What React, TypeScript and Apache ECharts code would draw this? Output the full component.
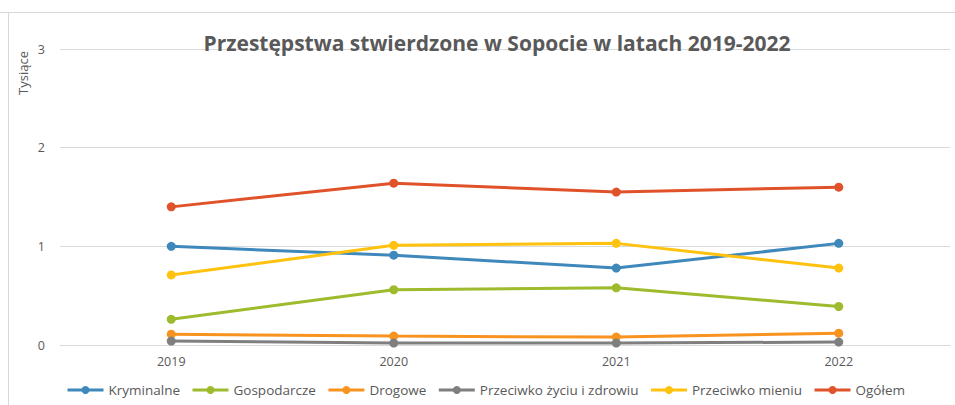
import React, { useEffect, useRef } from "react";
import * as echarts from "echarts";

const years = ["2019", "2020", "2021", "2022"];
const kryminalne = [1.0, 0.91, 0.78, 1.03];
const gospodarcze = [0.26, 0.56, 0.58, 0.39];
const drogowe = [0.11, 0.09, 0.08, 0.12];
const przeciwkoZyciu = [0.04, 0.02, 0.02, 0.03];
const przeciwkoMieniu = [0.71, 1.01, 1.03, 0.78];
const ogolem = [1.4, 1.64, 1.55, 1.6];

const seriesNames = [
  "Kryminalne",
  "Gospodarcze",
  "Drogowe",
  "Przeciwko życiu i zdrowiu",
  "Przeciwko mieniu",
  "Ogółem",
];
const seriesData = [kryminalne, gospodarcze, drogowe, przeciwkoZyciu, przeciwkoMieniu, ogolem];
const seriesColors = ["#3F88BC", "#9DBB2C", "#F7931E", "#7F7F7F", "#FFC20E", "#E0522A"];

const yTicks = { min: 0, max: 3, interval: 1 };
const title = "Przestępstwa stwierdzone w Sopocie w latach 2019-2022";
const yName = "Tysiące";

export default function App() {
  const ref = useRef<HTMLDivElement>(null);
  useEffect(() => {
    if (!ref.current) return;
    const chart = echarts.init(ref.current, null, { renderer: "svg" });
    const font = "'Open Sans', 'Liberation Sans', sans-serif";
    chart.setOption({
      animation: false,
      backgroundColor: "#ffffff",
      title: {
        text: title,
        left: 492,
        textAlign: "center",
        top: 27,
        textStyle: { color: "#595959", fontSize: 21, fontWeight: "bold", fontFamily: font },
      },
      legend: {
        bottom: 3,
        left: 61,
        itemWidth: 36,
        itemHeight: 10,
        itemGap: 11,
        lineStyle: { width: 3 },
        textStyle: { color: "#595959", fontSize: 13.5, fontFamily: font },
        data: seriesNames,
      },
      grid: { left: 60, right: 5, top: 49, bottom: 60, containLabel: false },
      xAxis: {
        type: "category",
        data: years,
        boundaryGap: true,
        axisLine: { show: true, lineStyle: { color: "#D9D9D9", width: 1 } },
        axisTick: { show: false },
        axisLabel: { color: "#595959", fontSize: 12.5, fontFamily: font, margin: 10 },
      },
      yAxis: {
        type: "value",
        min: yTicks.min,
        max: yTicks.max,
        interval: yTicks.interval,
        axisLine: { show: false },
        axisTick: { show: false },
        splitLine: { lineStyle: { color: "#D9D9D9", width: 1 } },
        axisLabel: { color: "#595959", fontSize: 12.5, fontFamily: font, margin: 15 },
      },
      graphic: [
        { type: "line", shape: { x1: 0, y1: 12.5, x2: 955, y2: 12.5 }, style: { stroke: "#D9D9D9", lineWidth: 1 } },
        { type: "line", shape: { x1: 8.5, y1: 12, x2: 8.5, y2: 405 }, style: { stroke: "#D9D9D9", lineWidth: 1 } },
        {
          type: "text",
          x: 23,
          y: 73,
          rotation: Math.PI / 2,
          style: {
            text: yName,
            fill: "#595959",
            fontSize: 13,
            fontFamily: font,
            align: "center",
            verticalAlign: "middle",
          },
        },
      ],
      series: seriesNames.map((name, i) => ({
        name,
        type: "line",
        data: seriesData[i],
        symbol: "circle",
        symbolSize: 9,
        lineStyle: { width: 3, color: seriesColors[i] },
        itemStyle: { color: seriesColors[i] },
        z: 2 + i,
      })),
    });
    return () => chart.dispose();
  }, []);
  return <div ref={ref} style={{ position: "fixed", left: 0, top: 0, width: 955, height: 405 }} />;
}
